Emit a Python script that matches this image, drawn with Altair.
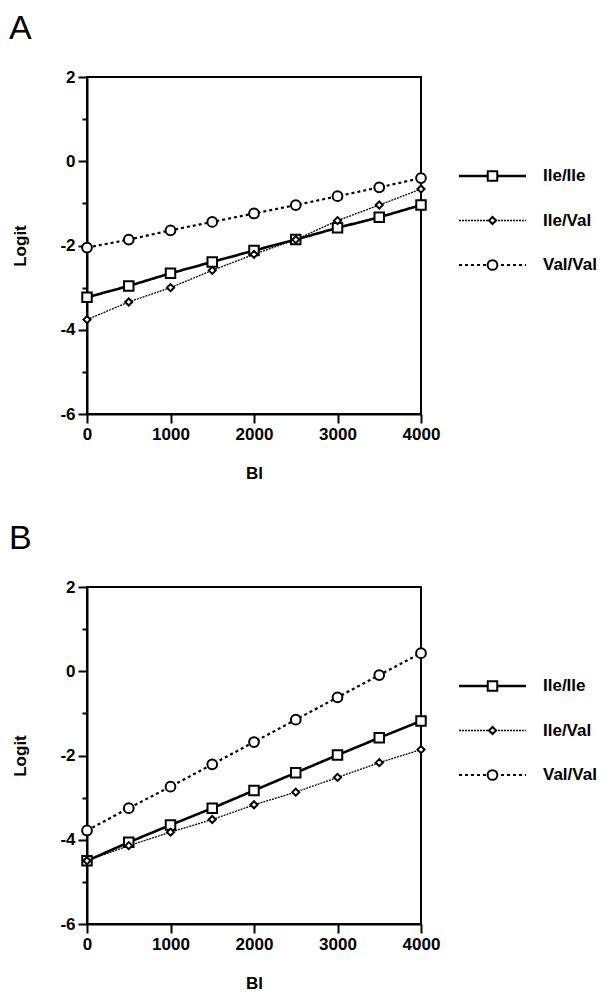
import altair as alt
import pandas as pd

# ---- data ----
bl_values = [0, 500, 1000, 1500, 2000, 2500, 3000, 3500, 4000]
series_names = ["Ile/Ile", "Ile/Val", "Val/Val"]

a_ile_ile = [-3.23, -2.96, -2.66, -2.39, -2.12, -1.86, -1.58, -1.33, -1.04]
a_ile_val = [-3.76, -3.34, -3.00, -2.59, -2.21, -1.86, -1.41, -1.04, -0.66]
a_val_val = [-2.05, -1.86, -1.64, -1.44, -1.24, -1.04, -0.83, -0.62, -0.40]

b_ile_ile = [-4.50, -4.06, -3.65, -3.25, -2.83, -2.41, -1.99, -1.58, -1.18]
b_ile_val = [-4.50, -4.14, -3.82, -3.52, -3.17, -2.87, -2.52, -2.17, -1.86]
b_val_val = [-3.78, -3.25, -2.74, -2.21, -1.68, -1.15, -0.62, -0.09, 0.43]

x_ticks = [0, 1000, 2000, 3000, 4000]
y_ticks = [-6, -4, -2, 0, 2]
y_minor = [-5, -3, -1, 1]
panel_labels = ["A", "B"]

FONT = "Liberation Sans"

dash_scale = alt.Scale(type="ordinal", domain=series_names, range=[[1, 0], [2, 1], [3, 3]])
width_scale = alt.Scale(type="ordinal", domain=series_names, range=[2.6, 1.3, 2.2])
shape_scale = alt.Scale(domain=series_names, range=["square", "diamond", "circle"])
size_scale = alt.Scale(type="ordinal", domain=series_names, range=[90, 50, 95])

PW, PH = 334, 337


def long_df(ii, iv, vv):
    rows = []
    for name, vals in zip(series_names, [ii, iv, vv]):
        for b, v in zip(bl_values, vals):
            rows.append({"Bl": b, "Logit": v, "series": name})
    return pd.DataFrame(rows)


def panel(ii, iv, vv):
    df = long_df(ii, iv, vv)
    x = alt.X("Bl:Q", scale=alt.Scale(domain=[0, 4000], nice=False, zero=False),
              axis=alt.Axis(values=x_ticks, format="d", title="Bl", grid=False,
                            labelFlush=False, labelPadding=3, titlePadding=23))
    y = alt.Y("Logit:Q", scale=alt.Scale(domain=[-6, 2], nice=False, zero=False),
              axis=alt.Axis(values=y_ticks, title="Logit", grid=False, labelFlush=False,
                            orient="left", labelPadding=3, titlePadding=30,
                            labelExpr="datum.value < 0 ? '-' + (-datum.value) : '' + datum.value"))
    base = alt.Chart(df).encode(x=x, y=y)
    lines = base.mark_line(color="black").encode(
        strokeDash=alt.StrokeDash("series:N", scale=dash_scale, legend=None),
        strokeWidth=alt.StrokeWidth("series:N", scale=width_scale, legend=None),
        detail="series:N",
    )
    pts = base.mark_point(filled=True, fill="white", stroke="black", strokeWidth=2, opacity=1).encode(
        shape=alt.Shape("series:N", scale=shape_scale, legend=None),
        size=alt.Size("series:N", scale=size_scale, legend=None),
    )
    minor = alt.Chart(pd.DataFrame({"m": y_minor})).mark_point(opacity=0).encode(
        y=alt.Y("m:Q", axis=alt.Axis(values=y_minor, labels=False, domain=False, tickSize=5,
                                     title=None, orient="left", grid=False))
    )
    return alt.layer(alt.layer(lines, pts), minor).resolve_axis(y="independent").properties(
        width=PW, height=PH, view=alt.ViewBackground(stroke="black", strokeWidth=2)
    )


def legend():
    line_rows = []
    for name in series_names:
        line_rows.append({"series": name, "lx": 0.0})
        line_rows.append({"series": name, "lx": 1.0})
    ldf = pd.DataFrame(line_rows)
    pdf = pd.DataFrame({"series": series_names, "lx": [0.5] * 3})
    tdf = pd.DataFrame({"series": series_names, "lx": [1.0] * 3})
    xs = alt.X("lx:Q", scale=alt.Scale(domain=[0, 1], range=[0, 67]), axis=None)
    ys = alt.Y("series:N", scale=alt.Scale(domain=series_names, range=[99, 188], padding=0), axis=None)
    l = alt.Chart(ldf).mark_line(color="black").encode(
        x=xs, y=ys,
        strokeDash=alt.StrokeDash("series:N", scale=dash_scale, legend=None),
        strokeWidth=alt.StrokeWidth("series:N", scale=width_scale, legend=None),
        detail="series:N",
    )
    p = alt.Chart(pdf).mark_point(filled=True, fill="white", stroke="black", strokeWidth=2, opacity=1).encode(
        x=xs, y=ys,
        shape=alt.Shape("series:N", scale=shape_scale, legend=None),
        size=alt.Size("series:N", scale=size_scale, legend=None),
    )
    t = alt.Chart(tdf).mark_text(align="left", baseline="middle", dx=17, font=FONT,
                                 fontSize=17, fontWeight="bold", color="black").encode(
        x=xs, y=ys, text="series:N")
    return alt.layer(l, p, t).properties(
        width=67, height=PH, view=alt.ViewBackground(stroke="transparent", strokeWidth=0)
    )


def row(label, ii, iv, vv):
    return alt.hconcat(panel(ii, iv, vv), legend(), spacing=12).properties(
        title=alt.TitleParams(label, anchor="start", frame="bounds", fontSize=34,
                              fontWeight="normal", font=FONT, color="black", dx=-2, offset=21)
    )


chart = alt.vconcat(
    row(panel_labels[0], a_ile_ile, a_ile_val, a_val_val),
    row(panel_labels[1], b_ile_ile, b_ile_val, b_val_val),
    spacing=40,
).properties(padding={"top": 4, "left": 0, "right": 0, "bottom": 0}).configure_axis(
    domainColor="black", domainWidth=2, tickColor="black", tickWidth=2, tickSize=9,
    labelFont=FONT, labelFontSize=17, labelFontWeight="bold", labelColor="black",
    titleFont=FONT, titleFontSize=17, titleFontWeight="bold", titleColor="black",
).configure_view(strokeWidth=0)

chart.save("out.html", embed_options={"renderer": "svg", "actions": False})
